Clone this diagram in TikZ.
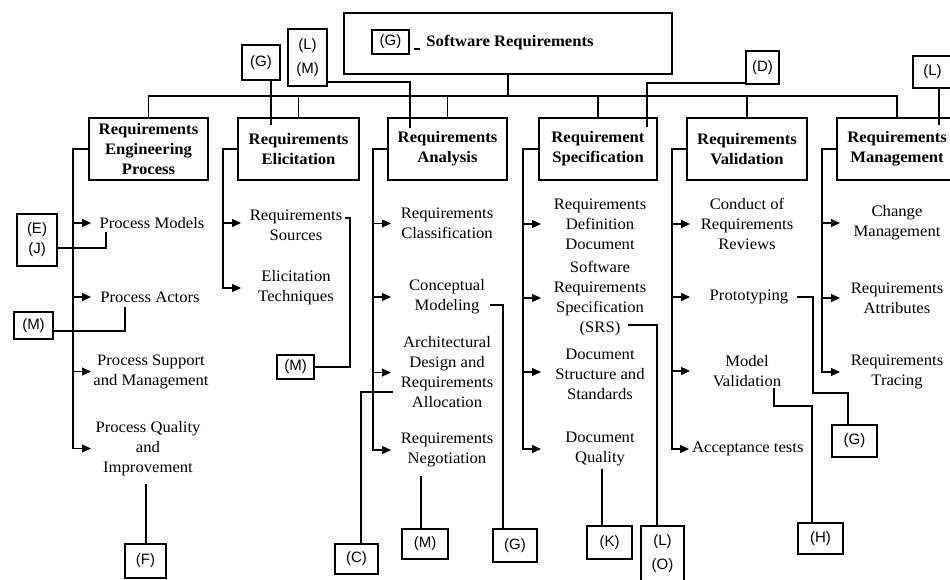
\documentclass[tikz,border=0pt]{standalone}
\usepackage{fontspec}
\setmainfont{Liberation Serif}[FakeStretch=1.04]
\newfontfamily\tagfont{Liberation Sans}
\usetikzlibrary{arrows.meta}

\begin{document}
\begin{tikzpicture}[x=1pt,y=-1pt,
  wire/.style={line width=1.2pt},
  topic/.style={draw, line width=1.7pt, inner sep=0pt, align=center,
    font=\bfseries\fontsize{16}{20}\selectfont},
  item/.style={inner sep=0pt, align=center, font=\fontsize{16}{20}\selectfont},
  tag/.style={draw, line width=1.2pt, inner sep=0pt, align=center,
    font=\tagfont\fontsize{15}{24}\selectfont},
  arr/.style={wire, -{Triangle[length=9pt,width=8pt]}}
]
\useasboundingbox (0,0) rectangle (950,579);

% ---------- root ----------
\node[draw, line width=1.7pt, minimum width=328pt, minimum height=61pt] (sr) at (508,43.5) {};
\node[inner sep=0pt, font=\bfseries\fontsize{16}{20}\selectfont] (srt) at (510,43) {Software Requirements};
\node[tag, minimum width=37pt, minimum height=24pt] (gsr) at (390.5,42) {(G)};
\draw[wire, shorten <=4pt, shorten >=6pt] (gsr.east |- 0,49) -- (srt.west |- 0,49);

% ---------- knowledge areas ----------
\node[topic, minimum width=119pt, minimum height=62pt] (rep) at (148.5,149) {Requirements\\Engineering\\Process};
\node[topic, minimum width=121pt, minimum height=62pt] (eli) at (298.5,149) {Requirements\\Elicitation};
\node[topic, minimum width=119pt, minimum height=62pt] (ana) at (447.5,149) {Requirements\\Analysis};
\node[topic, minimum width=118pt, minimum height=62pt] (spe) at (598,149) {Requirement\\Specification};
\node[topic, minimum width=120pt, minimum height=62pt] (val) at (747,149) {Requirements\\Validation};
\node[topic, minimum width=120pt, minimum height=62pt] (man) at (897,149) {Requirements\\Management};

% bus
\coordinate (bus) at (0,96);
\draw[wire] (sr.south) -- (sr.south |- bus);
\draw[wire] (rep.north) -- (rep.north |- bus) -- (man.north |- bus) -- (man.north);
\foreach \n in {eli,ana,spe,val} \draw[wire] (\n.north) -- (\n.north |- bus);

% ---------- topics ----------
\node[item] (pm) at (152,223) {Process Models};
\node[item] (pa) at (150,297) {Process Actors};
\node[item] (ps) at (151,371.5) {Process Support\\and Management};
\node[item] (pq) at (148,448.5) {Process Quality\\and\\Improvement};

\node[item] (rs) at (296,225) {Requirements\\Sources};
\node[item] (et) at (296,288) {Elicitation\\Techniques};

\node[item] (rc) at (447,223.5) {Requirements\\Classification};
\node[item] (cm) at (447,297) {Conceptual\\Modeling};
\node[item] (ad) at (447,372.5) {Architectural\\Design and\\Requirements\\Allocation};
\node[item] (rn) at (447,450) {Requirements\\Negotiation};

\node[item] (rdd) at (600,224) {Requirements\\Definition\\Document};
\node[item] (srs) at (600,299) {Software\\Requirements\\Specification\\(SRS)};
\node[item] (dss) at (600,374) {Document\\Structure and\\Standards};
\node[item] (dq) at (600,449) {Document\\Quality};

\node[item] (cr) at (747,224) {Conduct of\\Requirements\\Reviews};
\node[item] (pr) at (749,297) {Prototyping};
\node[item] (mv) at (747,371) {Model\\Validation};
\node[item, anchor=west] (at) at (692,449) {Acceptance tests};

\node[item] (cg) at (897,223) {Change\\Management};
\node[item] (ra) at (897,298) {Requirements\\Attributes};
\node[item] (rt) at (897,372) {Requirements\\Tracing};

% ---------- spines with arrows ----------
\coordinate (repS) at (73,0);
\draw[arr] (rep.west) -| (repS |- pq) -- ++(18,0);
\foreach \n in {pm,pa,ps} \draw[arr] (repS |- \n) -- ++(18,0);

\coordinate (eliS) at (223,0);
\draw[arr] (eli.west) -| (eliS |- et) -- ++(18,0);
\draw[arr] (eliS |- 0,223) -- ++(18,0);

\coordinate (anaS) at (373,0);
\draw[arr] (ana.west) -| (anaS |- rn) -- ++(18,0);
\foreach \n in {rc,cm,ad} \draw[arr] (anaS |- \n) -- ++(18,0);

\coordinate (speS) at (523,0);
\draw[arr] (spe.west) -| (speS |- dq) -- ++(18,0);
\draw[arr] (speS |- rdd) -- ++(18,0);
\draw[arr] (speS |- 0,298) -- ++(18,0);
\draw[arr] (speS |- 0,372) -- ++(18,0);

\coordinate (valS) at (672,0);
\draw[arr] (val.west) -| (valS |- at) -- ++(17,0);
\foreach \n in {cr,pr,mv} \draw[arr] (valS |- \n) -- ++(18,0);

\coordinate (manS) at (822,0);
\draw[arr] (man.west) -| (manS |- rt) -- ++(18,0);
\foreach \n in {cg,ra} \draw[arr] (manS |- \n) -- ++(18,0);

% ---------- reference tags ----------
\node[tag, minimum width=38pt, minimum height=35pt] (gel) at (261,62.5) {(G)};
\node[tag, minimum width=39pt, minimum height=57pt] (lm) at (307.5,57.5) {(L)\\(M)};
\node[tag, minimum width=33pt, minimum height=33pt] (dsp) at (762.5,67.5) {(D)};
\node[tag, minimum width=39pt, minimum height=32pt] (lman) at (932.5,72) {(L)};

\node[tag, minimum width=40pt, minimum height=52pt, font=\tagfont\fontsize{15}{20}\selectfont] (ej) at (37,240) {(E)\\(J)};
\node[tag, minimum width=39pt, minimum height=27pt] (mrep) at (33.5,325.5) {(M)};
\node[tag, minimum width=37pt, minimum height=24pt] (mel) at (295.5,367) {(M)};
\node[tag, minimum width=41pt, minimum height=34pt] (f) at (145.5,561) {(F)};
\node[tag, minimum width=43pt, minimum height=30pt] (c) at (356.5,559) {(C)};
\node[tag, minimum width=46pt, minimum height=30pt] (mana) at (425,544) {(M)};
\node[tag, minimum width=44pt, minimum height=33pt] (gana) at (515,545.5) {(G)};
\node[tag, minimum width=45pt, minimum height=33pt] (k) at (609.5,542.5) {(K)};
\node[tag, minimum width=43pt, minimum height=56pt] (lo) at (662.5,554) {(L)\\(O)};
\node[tag, minimum width=45pt, minimum height=31pt] (h) at (820.5,538.5) {(H)};
\node[tag, minimum width=45pt, minimum height=32pt] (gval) at (854.5,441) {(G)};

% ---------- tag connectors ----------
\coordinate (gelA) at (271,125);
\draw[wire] (gel.south -| gelA) -- (gelA);
\coordinate (lmA) at (410,128);
\draw[wire] (lm.east |- 0,82) -| (lmA);
\coordinate (dA) at (647,127);
\draw[wire] (dsp.west |- 0,83) -| (dA);
\coordinate (lA) at (939,125);
\draw[wire] (lman.south -| lA) -- (lA);

\coordinate (ejA) at (106,232);
\draw[wire] (ej.east |- 0,248) -| (ejA);
\coordinate (paA) at (125,307);
\draw[wire] (mrep.east |- 0,331) -| (paA);
\coordinate (rsA) at (345,218);
\coordinate (rsB) at (350,218);
\draw[wire] (rsA) -- (rsB) |- (mel.east);
\coordinate (pqA) at (146,484);
\draw[wire] (pqA) -- (pqA |- f.north);

\coordinate (adA) at (393,392);
\coordinate (cA) at (361,544);
\draw[wire] (adA) -| (cA);
\coordinate (rnA) at (421,476);
\draw[wire] (rnA) -- (rnA |- mana.north);
\coordinate (cmA) at (490,305);
\coordinate (cmB) at (503,305);
\draw[wire] (cmA) -- (cmB) -- (cmB |- gana.north);

\coordinate (srsA) at (628,325);
\coordinate (srsB) at (657,325);
\draw[wire] (srsA) -- (srsB) -- (srsB |- lo.north);
\coordinate (dqA) at (602,469);
\draw[wire] (dqA) -- (dqA |- k.north);

\coordinate (prA) at (797,297);
\coordinate (prB) at (813,393);
\coordinate (gvA) at (848,425);
\draw[wire] (prA) -| (prB) -| (gvA);
\coordinate (mvA) at (774,388);
\coordinate (mvB) at (812,406);
\draw[wire] (mvA) |- (mvB) -- (mvB |- h.north);
\end{tikzpicture}
\end{document}
